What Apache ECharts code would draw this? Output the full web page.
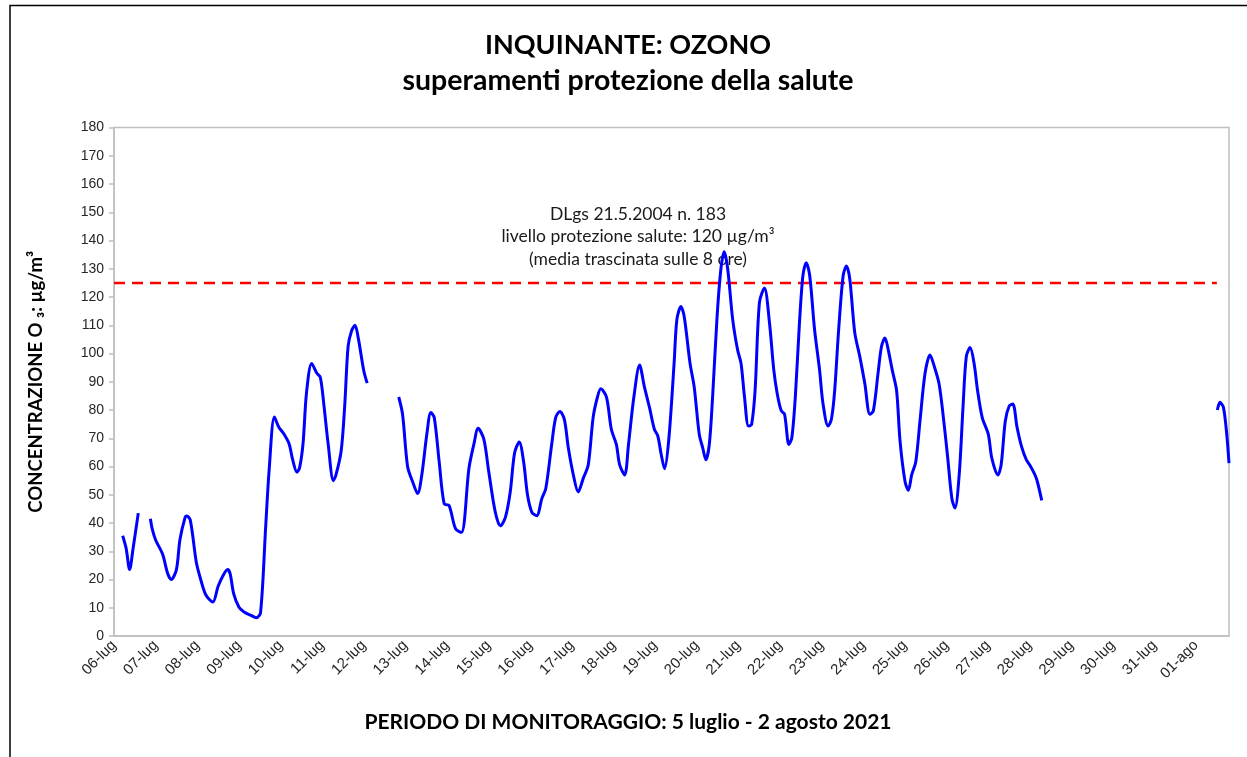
<!DOCTYPE html>
<html>
<head>
<meta charset="utf-8">
<title>Ozono - superamenti protezione della salute</title>
<script src="https://cdn.jsdelivr.net/npm/echarts@6/dist/echarts.min.js"></script>
<style>
  html, body { margin: 0; padding: 0; background: #fff; }
  #chart { width: 1247px; height: 757px; }
</style>
</head>
<body>
<div id="chart"></div>
<script>
// etichette dei giorni (una ogni 24 ore)
const dayLabels = [
  '06-lug', '07-lug', '08-lug', '09-lug', '10-lug', '11-lug', '12-lug', '13-lug', '14-lug',
  '15-lug', '16-lug', '17-lug', '18-lug', '19-lug', '20-lug', '21-lug', '22-lug', '23-lug',
  '24-lug', '25-lug', '26-lug', '27-lug', '28-lug', '29-lug', '30-lug', '31-lug', '01-ago'
];

// ore dall'inizio del periodo (06-lug 00:00) e media mobile 8 ore di O3 (µg/m³); null = dato mancante
const ozoneHours = [
  5, 7, 9, 11, 14,
  17,
  21, 22, 24, 28, 31, 33, 36, 38, 41, 42, 44, 47.5, 50, 53, 57, 60, 63, 65.5, 67, 69, 72, 75, 79, 82,
  84.5, 87.5, 89.5, 92.5, 95, 98, 101, 103, 105.5, 107, 109, 111, 114, 117, 119, 121, 123.5, 126.5,
  128, 131, 133, 135, 137, 139, 141, 144, 146,
  155,
  164.2, 166.4, 169.3, 172.2, 175.1, 177.5, 180.4, 182.7, 184.7, 187.5, 190.4, 193.2, 197, 200.4,
  204.7, 207.5, 210, 213.3, 216.1, 219.9, 222.8, 225.7, 228.5, 231, 233.7, 236.2, 238.5, 241, 243.8,
  246.7, 249, 252.4, 254.7, 257.1, 259.7, 262, 264.9, 267.7, 270.6, 273.5, 276.3, 278.8, 280.7, 284,
  286.8, 289.7, 291.6, 294.5, 296.7, 299.8, 303.1, 305.9, 308.8, 311.6, 313.6, 315.4,
  317.5, 320, 323, 324.6, 326.9, 328.8, 332.2, 334.6, 337.5, 339.5, 341.3, 343.3, 345.2, 347.8, 350,
  351.9, 353.9, 356.8, 359.6, 361.6, 363.6, 365.9, 367.7, 369.7, 372.2, 375.1, 378, 380.5, 382.5,
  384.8, 386.7, 389.2, 390.9, 392.9, 395.3, 397.3, 399.2, 401.2, 404, 406.9, 408.9, 411.8, 413.7,
  415.6, 417.9, 420.5, 422.4, 424.3, 427.2, 430.1, 433, 435.9, 437.9, 440.7, 442.6, 444.6, 446.5,
  448.8, 451.3, 453.3, 456.2, 458.1, 460, 462.4, 464.8, 467.7, 470.6, 473.1, 475.8, 478.3, 480.8,
  483.2, 485, 487.4, 489.6, 491.5, 493.7, 496, 498, 500.7, 504.2, 506.2, 509.7, 511.6, 514, 516.3,
  518.3, 520.8, 523.3, 526.1, 528.6, 531.1, 532.5, 535,
  580,
  636.3, 637.8, 639.8, 641.7, 643
];
const ozoneValues = [
  35.5, 31, 23.5, 31, 43.5,
  null,
  41.5, 38, 34, 29, 22, 20, 23.5, 34, 42, 42.5, 41, 26, 20, 14.5, 12, 17.5, 21.5, 23.5, 22, 15, 10.3, 8.5, 7.3, 6.5,
  8.2, 39, 59, 77.5, 74, 71.5, 68, 62.5, 58, 59.5, 68, 86, 96.5, 93, 91.5, 82, 68, 55,
  57, 65.5, 81, 102.5, 108, 110, 105, 94, 89.5,
  null,
  84.6, 78.5, 60, 54.6, 50.4, 57, 71.4, 79.1, 77.3, 61.8, 46.8, 46.2, 37.9, 36.7,
  59.4, 67.8, 73.5, 69.6, 58.2, 43.8, 39, 42, 51, 64.8, 68.7, 61.8, 49.8, 43.8, 42.6,
  48.6, 52.2, 67.8, 77.3, 79.5, 76.7, 66.6, 57, 51, 55.8, 60.6, 77.3, 84.6, 87.5, 84.6,
  73.2, 67.8, 60.6, 57, 67.8, 84.6, 95.9, 88.1, 80.9, 73.2, 70.8, 64.8,
  59.2, 70, 96.5, 112, 116.6, 113.2, 96.5, 88.1, 71.4, 66.6, 62.4, 67.8, 84.6, 113.2, 130,
  136, 130, 112, 101.3, 96.5, 84.6, 74.3, 74.9, 86.9, 118, 123.2, 110.9, 94.1, 85.7,
  79.7, 78.5, 67.8, 70.2, 84.6, 110.9, 127.6, 132.1, 127.6, 108.5, 94.1, 82.1, 74.3, 76.7,
  86.9, 108.5, 127.6, 131, 126.4, 107.3, 98.9, 89.3, 78.5, 79.7, 93.5, 102.5, 105.5, 101.3,
  94.1, 86.9, 69, 54.6, 51.6, 57, 61.8, 76.1, 92.9, 99.5, 95.3, 89.3, 77.3, 63,
  48.6, 45.3, 57, 80.9, 98.9, 102.1, 96.5, 86.9, 77.3, 71.4, 63, 57, 60.6, 76.1, 81.5,
  82.1, 73.8, 67.2, 62.4, 60, 57, 54.6, 48,
  null,
  80, 82.7, 80.9, 71.4, 61.2
];

// soglia disegnata sul grafico e suo intervallo orario
const limitHours = [0, 636];
const limitValues = [125, 125];

const yTicks = { min: 0, max: 180, step: 10 };

const chartDom = document.getElementById( 'chart' );
const myChart = echarts.init( chartDom, null, { renderer: 'canvas' } );

const ozoneData = ozoneHours.map( ( h, i ) => [ h, ozoneValues[ i ] === null ? '-' : ozoneValues[ i ] ] );
const limitData = limitHours.map( ( h, i ) => [ h, limitValues[ i ] ] );

// testo centrato per gli elementi grafici
function centeredText ( x, y, text, font, extra = {} ) {
  return {
    type: 'text',
    x: x,
    y: y,
    silent: true,
    style: Object.assign( {
      text: text,
      font: font,
      fill: '#000',
      align: 'center',
      verticalAlign: 'middle',
      textAlign: 'center',
      textVerticalAlign: 'middle'
    }, extra )
  };
}

const option = {
  backgroundColor: '#ffffff',
  animation: false,
  grid: {
    left: 114,
    right: 18,
    top: 127.5,
    bottom: 121,
    show: true,
    borderColor: '#bfbfbf',
    borderWidth: 1.5,
    containLabel: false,
    outerBoundsMode: 'none'
  },
  xAxis: {
    type: 'value',
    min: 0,
    max: 643,
    interval: 24,
    axisLine: { show: true, lineStyle: { color: '#bfbfbf', width: 1.5 } },
    axisTick: { show: false },
    splitLine: { show: false },
    axisLabel: {
      rotate: 45,
      margin: 7,
      fontFamily: 'Liberation Sans',
      fontSize: 15,
      color: '#262626',
      showMaxLabel: false,
      formatter: ( v ) => dayLabels[ v / 24 ] || ''
    }
  },
  yAxis: {
    type: 'value',
    min: yTicks.min,
    max: yTicks.max,
    interval: yTicks.step,
    name: 'CONCENTRAZIONE O ₃: µg/m³',
    nameLocation: 'middle',
    nameRotate: 90,
    nameGap: 68,
    nameTextStyle: { fontFamily: 'Lato', fontWeight: 'bold', fontSize: 18.5, color: '#000' },
    axisLine: { show: true, lineStyle: { color: '#bfbfbf', width: 1.5 } },
    axisTick: { show: true, length: 5, lineStyle: { color: '#bfbfbf', width: 1.5 } },
    splitLine: { show: false },
    axisLabel: {
      margin: 10,
      fontFamily: 'Liberation Sans',
      fontSize: 14,
      color: '#262626'
    }
  },
  series: [
    {
      name: 'Ozono',
      type: 'line',
      data: ozoneData,
      showSymbol: false,
      connectNulls: false,
      smooth: 0.3,
      lineStyle: { color: '#0000ff', width: 3 },
      z: 3
    },
    {
      name: 'Soglia',
      type: 'line',
      data: limitData,
      showSymbol: false,
      lineStyle: { color: '#ff0000', width: 2.5, type: [ 11, 7 ] },
      z: 2
    }
  ],
  graphic: [
    // cornice esterna (tagliata a destra e in basso)
    {
      type: 'polyline',
      shape: { points: [ [ 10, 757 ], [ 10, 5.5 ], [ 1247, 5.5 ] ] },
      style: { stroke: '#000', lineWidth: 1.5, fill: null },
      silent: true
    },
    centeredText( 628, 45, 'INQUINANTE: OZONO', 'bold 27px Lato' ),
    centeredText( 628, 81, 'superamenti protezione della salute', 'bold 28.5px Lato' ),
    centeredText( 638, 236.5,
      'DLgs 21.5.2004 n. 183\nlivello protezione salute: 120 µg/m³\n(media trascinata sulle 8 ore)',
      '17.5px Lato', { lineHeight: 22.5, fill: '#1a1a1a' } ),
    centeredText( 628, 722, 'PERIODO DI MONITORAGGIO: 5 luglio - 2 agosto 2021', 'bold 21px Lato' )
  ]
};

myChart.setOption( option );
</script>
</body>
</html>
